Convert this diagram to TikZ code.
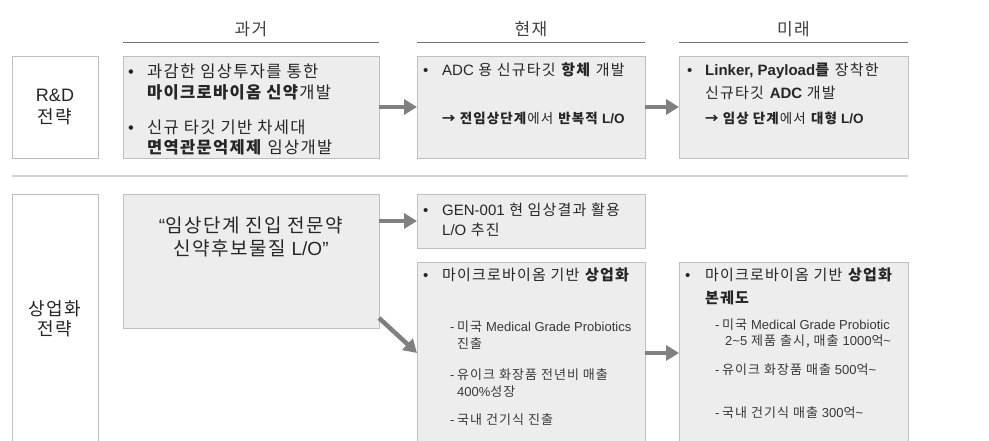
\documentclass[tikz,border=0pt]{standalone}
\usepackage{fontspec}
\setmainfont[LetterSpace=8]{Noto Sans CJK KR}
\newfontfamily\latf{Liberation Sans}
\usetikzlibrary{arrows.meta,positioning,calc}
\definecolor{boxgray}{HTML}{EDEDED}
\definecolor{edgegray}{HTML}{BFBFBF}
\definecolor{arrgray}{HTML}{808080}
\definecolor{inkgray}{HTML}{262626}
\newcommand{\lat}[1]{{\latf #1}}
\newcommand{\bul}{\makebox[19pt][l]{\lat{•}}}
\newcommand{\dsh}{\makebox[7pt][l]{\lat{-}}}

\begin{document}
\begin{tikzpicture}[x=1pt,y=-1pt,
  labelbox/.style={rectangle,draw=edgegray,fill=white,line width=0.8pt,
                   inner sep=0pt,outer sep=0pt,minimum width=86pt,
                   align=center,text=inkgray},
  stepbox/.style={rectangle,draw=edgegray,fill=boxgray,line width=0.8pt,
                  inner sep=0pt,outer sep=0pt},
  head/.style={font=\fontsize{17}{20}\selectfont,text=black!75},
  txt/.style={anchor=west,inner sep=0pt,align=left,text=inkgray,
              font=\fontsize{15}{20}\selectfont},
  subtxt/.style={txt,font=\fontsize{13}{17.5}\selectfont,text=black!78},
  arr/.style={-{Triangle[length=13pt,width=15pt]},line width=4.5pt,arrgray},
  hline/.style={line width=1pt,black!55},
  sepline/.style={line width=1.2pt,black!18}
]
  \useasboundingbox (0,0) rectangle (989,441);

  % ---- row labels ----------------------------------------------
  \node[labelbox,minimum height=102pt,font=\fontsize{18}{22}\selectfont]
    (rd) at (55,107) {\lat{R\&D}\\전략};
  \node[labelbox,minimum height=250pt,font=\fontsize{18}{20}\selectfont]
    (cm) at (55,319) {상업화\\전략};

  % ---- R&D row boxes -------------------------------------------
  \node[stepbox,minimum width=256pt,minimum height=102pt] (past) at (251,107) {};
  \node[stepbox,minimum width=228pt,minimum height=102pt] (now)  at (531,107) {};
  \node[stepbox,minimum width=229pt,minimum height=102pt] (fut)  at (793.5,107) {};

  % column headers
  \node[head] (hpast) at ([yshift=27pt]past.north) {과거};
  \node[head] (hnow)  at ([yshift=27pt]now.north)  {현재};
  \node[head] (hfut)  at ([yshift=27pt]fut.north)  {미래};
  \draw[hline] ([yshift=13pt]past.north west) -- ([yshift=13pt]past.north east);
  \draw[hline] ([yshift=13pt]now.north west)  -- ([yshift=13pt]now.north east);
  \draw[hline] ([yshift=13pt]fut.north west)  -- ([yshift=13pt]fut.north east);

  \node[txt,font=\fontsize{16.5}{21}\selectfont] (p1) at (128,81.5)
    {\bul 과감한 임상투자를 통한\\\hspace*{19pt}\textbf{마이크로바이옴 신약}개발};
  \node[txt,font=\fontsize{16.5}{20}\selectfont] (p2) at (128,137)
    {\bul 신규 타깃 기반 차세대\\\hspace*{19pt}\textbf{면역관문억제제} 임상개발};

  \node[txt] (n1) at (423,70) {\bul\lat{ADC} 용 신규타깃 \textbf{항체} 개발};
  \node[txt,font=\fontsize{13.5}{17}\selectfont] (n2) at (442,118)
    {\textbf{→ 전임상단계}에서 \textbf{반복적 \lat{L/O}}};

  \node[txt,font=\fontsize{15}{23}\selectfont] (f1) at (687,81.5)
    {\makebox[18pt][l]{\lat{•}}\textbf{\lat{Linker, Payload}를} 장착한\\\hspace*{18pt}신규타깃 \textbf{\lat{ADC}} 개발};
  \node[txt,font=\fontsize{13.5}{17}\selectfont] (f2) at (705,118)
    {\textbf{→ 임상 단계}에서 \textbf{대형 \lat{L/O}}};

  \draw[arr] (past.east) -- (now.west);
  \draw[arr] (now.east) -- (fut.west);

  % separator between the two rows
  \draw[sepline] ([yshift=-18pt]rd.south west) -- ([yshift=-18pt]fut.south east);

  % ---- commercialisation row -----------------------------------
  \node[stepbox,minimum width=256pt,minimum height=134pt] (quote) at (251,261) {};
  \node[stepbox,minimum width=228pt,minimum height=54pt]  (gen)   at (531,221) {};
  \node[stepbox,minimum width=228pt,minimum height=182pt] (now2)  at (531,353) {};
  \node[stepbox,minimum width=229pt,minimum height=182pt] (fut2)  at (793.5,353) {};

  \node[txt,anchor=center,align=center,font=\fontsize{19}{23}\selectfont] (q)
    at (251,236.5) {\lat{“}임상단계 진입 전문약\\신약후보물질 \lat{L/O”}};

  \node[txt] (g1) at (423,220)
    {\bul\lat{GEN-001} 현 임상결과 활용\\\hspace*{19pt}\lat{L/O} 추진};

  \node[txt] (c1) at (423,275) {\bul 마이크로바이옴 기반 \textbf{상업화}};
  \node[subtxt] (c2) at (450,335)
    {\dsh 미국 \lat{Medical Grade Probiotics}\\\hspace*{7pt}진출};
  \node[subtxt] (c3) at (450,383)
    {\dsh 유이크 화장품 전년비 매출\\\hspace*{7pt}\lat{400\%}성장};
  \node[subtxt] (c4) at (450,420) {\dsh 국내 건기식 진출};

  \node[txt,font=\fontsize{15}{23}\selectfont] (d1) at (685,286.5)
    {\makebox[20pt][l]{\lat{•}}마이크로바이옴 기반 \textbf{상업화}\\\hspace*{20pt}\textbf{본궤도}};
  \node[subtxt,font=\fontsize{13}{16}\selectfont] (d2) at (715,333)
    {\dsh 미국 \lat{Medical Grade Probiotic}\\\hspace*{10pt}\lat{2\textasciitilde5} 제품 출시, 매출 \lat{1000}억\lat{\textasciitilde}};
  \node[subtxt] (d3) at (715,370) {\dsh 유이크 화장품 매출 \lat{500}억\lat{\textasciitilde}};
  \node[subtxt] (d4) at (715,413) {\dsh 국내 건기식 매출 \lat{300}억\lat{\textasciitilde}};

  \draw[arr] (quote.east |- gen.west) -- (gen.west);
  \draw[arr] ([yshift=10pt]quote.south east) -- (now2.west);
  \draw[arr] (now2.east) -- (fut2.west);

\end{tikzpicture}
\end{document}
